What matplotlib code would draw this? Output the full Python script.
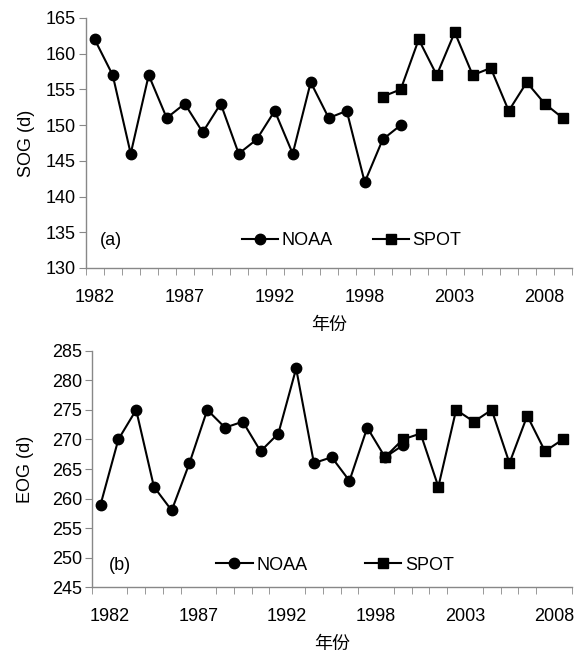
import matplotlib
matplotlib.use("Agg")
import matplotlib.pyplot as plt
import numpy as np

plt.rcParams['font.family'] = ['Liberation Sans', 'Noto Sans CJK SC']

# ---- data ----
n_categories = 27
tick_labels = ['1982', '1987', '1992', '1998', '2003', '2008']
tick_every = 5
noaa_start = 0
spot_start = 16

noaa_sog = [162, 157, 146, 157, 151, 153, 149, 153, 146, 148, 152, 146,
            156, 151, 152, 142, 148, 150]
spot_sog = [154, 155, 162, 157, 163, 157, 158, 152, 156, 153, 151]

noaa_eog = [259, 270, 275, 262, 258, 266, 275, 272, 273, 268, 271, 282,
            266, 267, 263, 272, 267, 269]
spot_eog = [267, 270, 271, 262, 275, 273, 275, 266, 274, 268, 270]

series_names = ['NOAA', 'SPOT']
xlabel = '年份'

GRAY = '#888888'
FS = 13

fig = plt.figure(figsize=(5.76, 6.52), dpi=100)
ax1 = fig.add_axes([0.1488, 0.589, 0.8438, 0.3834])
ax2 = fig.add_axes([0.1592, 0.0992, 0.8333, 0.3629])


def style(ax, ylim, ylab, label_offset, panel, leg_x, leg_y, colsp, panel_x, ylpad):
    ax.set_xlim(-0.5, n_categories - 0.5)
    ax.set_ylim(*ylim)
    ax.set_yticks(np.arange(ylim[0], ylim[1] + 1, 5))
    for s in ['top', 'right']:
        ax.spines[s].set_visible(False)
    for s in ['left', 'bottom']:
        ax.spines[s].set_color(GRAY)
        ax.spines[s].set_linewidth(1.0)
    ax.set_xticks(np.arange(-0.5, n_categories, 1.0), minor=True)
    ax.set_xticks(np.arange(0, n_categories, tick_every)[:len(tick_labels)] + label_offset)
    ax.set_xticklabels(tick_labels)
    ax.tick_params(axis='x', which='major', length=0, pad=15, labelsize=FS)
    ax.tick_params(axis='x', which='minor', length=5, color=GRAY, direction='out')
    ax.tick_params(axis='y', which='major', length=5, color=GRAY, direction='out',
                   labelsize=FS, pad=2)
    ax.set_ylabel(ylab, fontsize=FS, labelpad=ylpad)
    ax.set_xlabel(xlabel, fontsize=FS, labelpad=8)
    ax.text(panel_x, leg_y, panel, transform=ax.transAxes, fontsize=FS,
            ha='left', va='center')
    ax.legend(loc='center', bbox_to_anchor=(leg_x, leg_y), ncol=2, frameon=False,
              fontsize=FS, handlelength=2.0, handletextpad=0.2,
              columnspacing=colsp, borderpad=0, borderaxespad=0)


for ax, noaa, spot, ylim, ylab, off, panel, lx, ly, cs, px, ylp in [
        (ax1, noaa_sog, spot_sog, (130, 165), 'SOG (d)', 0.0, '(a)', 0.547, 0.108, 2.2, 0.03, 8),
        (ax2, noaa_eog, spot_eog, (245, 285), 'EOG (d)', 0.5, '(b)', 0.507, 0.094, 3.2, 0.035, 13)]:
    x_noaa = np.arange(len(noaa)) + noaa_start
    x_spot = np.arange(len(spot)) + spot_start
    ax.plot(x_noaa, noaa, color='black', lw=1.5, marker='o', ms=7.5,
            label=series_names[0], zorder=3)
    ax.plot(x_spot, spot, color='black', lw=1.5, marker='s', ms=7,
            label=series_names[1], zorder=4)
    style(ax, ylim, ylab, off, panel, lx, ly, cs, px, ylp)

fig.savefig('out.png', dpi=100)
